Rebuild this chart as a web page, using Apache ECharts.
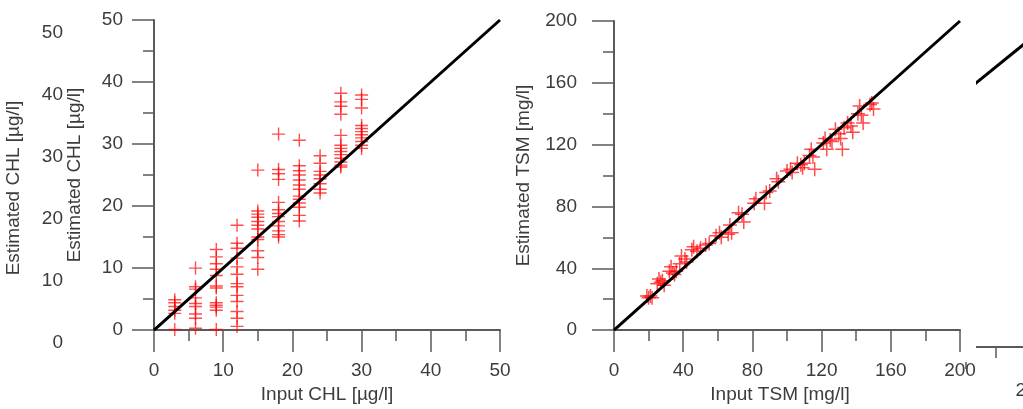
<!DOCTYPE html>
<html>
<head>
<meta charset="utf-8">
<script src="https://cdn.jsdelivr.net/npm/echarts@6/dist/echarts.min.js"></script>
<style>
html,body{margin:0;padding:0;background:#fff;overflow:hidden;width:1023px;height:409px;}
#chart{width:1120px;height:409px;}
</style>
</head>
<body>
<div id="chart"></div>
<script>
// ---- data ----
const chlInput = [3, 6, 9, 12, 15, 18, 21, 24, 27, 30];
const chlEstimated = [
  [4.9, 4.4, 3.8, 3.2, 2.7, 0.1],
  [10.0, 7.0, 6.6, 5.2, 4.3, 3.8, 2.6, 1.9, 0.3],
  [13.0, 11.8, 10.7, 9.8, 8.8, 7.1, 6.8, 4.4, 4.0, 3.7, 3.2, 0.1],
  [16.9, 14.0, 13.2, 11.6, 10.2, 9.0, 7.5, 7.0, 5.6, 4.6, 3.0, 1.9, 0.6],
  [25.8, 19.2, 18.7, 18.2, 17.5, 16.9, 16.3, 15.0, 14.6, 12.8, 11.7, 9.8],
  [31.6, 25.9, 25.2, 24.3, 20.6, 19.4, 18.8, 18.3, 17.5, 16.8, 16.0, 15.4, 15.0],
  [30.6, 26.5, 25.7, 25.0, 24.2, 23.4, 22.7, 21.6, 21.1, 20.5, 19.8, 18.5, 17.6],
  [28.1, 26.9, 25.6, 25.0, 24.4, 23.6, 22.7, 22.1],
  [38.2, 36.8, 36.1, 34.8, 31.4, 29.8, 29.3, 28.8, 28.3, 27.7, 27.1, 26.6, 26.3],
  [37.9, 37.2, 35.8, 33.0, 32.5, 32.0, 31.5, 31.0, 30.4, 29.8, 29.3]
];
const tsmInput = [19,20,21,22, 25,26,27,28,29, 32,33,34,35,36, 38,39,41,42,
  45,46,48,50,53,55, 59,61,62,66,67,68, 72,74,75, 81,82,87,88,90, 94,95,
  100,102,103,106,108,109,110, 113,114,115,116, 121,122,123,125,126,
  128,130,131,132,133, 135,137,138, 141,142,143,144, 148,149,150];
const tsmEstimated = [22,21,22,21, 30,33,31,32,29, 38,41,37,36,38, 43,48,46,44,
  52,54,51,53,55,56, 61,63,60,62,68,63, 76,75,70, 82,85,82,89,90, 98,96,
  103,104,102,108,107,105,108, 113,117,112,104, 121,124,117,123,122,
  130,127,124,117,131, 134,132,128, 140,145,139,134, 146,147,143];
const chlTicks = [0, 50, 10];      // min, max, interval
const tsmTicks = [0, 200, 40];
const chlOneToOne = [[0, 0], [50, 50]];
const tsmOneToOne = [[0, 0], [200, 200]];
const ghostTicks = [0, 40, 20];
const ghostLine = [[0, 85.3], [20, 101.5]];

// ---- build ----
const chlPoints = [];
chlInput.forEach((x, i) => chlEstimated[i].forEach(y => chlPoints.push([x, y])));
const tsmPoints = tsmInput.map((x, i) => [x, tsmEstimated[i]]);

const FONT = "'Liberation Sans', Arial, sans-serif";
const TXT = '#3c3c3c';
const AX = '#5a5a5a';
const FS = 19;
const cross = 'path://M0,5.8H13V7.2H0Z M5.8,0H7.2V13H5.8Z';

function valAxis(opt) {
  return Object.assign({
    type: 'value',
    splitLine: {show: false},
    axisLine: {show: true, onZero: false, lineStyle: {color: AX, width: 2}},
    axisTick: {show: true, length: 22, lineStyle: {color: AX, width: 1.5}},
    minorTick: {show: true, splitNumber: 2, length: 11, lineStyle: {color: AX, width: 1.5}},
    axisLabel: {color: TXT, fontFamily: FONT, fontSize: FS, margin: 31},
    nameLocation: 'middle',
    nameTextStyle: {color: TXT, fontFamily: FONT, fontSize: FS}
  }, opt);
}

const chart = echarts.init(document.getElementById('chart'), null, {renderer: 'canvas'});
chart.setOption({
  animation: false,
  backgroundColor: '#fff',
  grid: [
    {left: 154, top: 20, width: 346, height: 317},
    {left: 614, top: 21, width: 346, height: 317},
    {left: 94, top: 33, width: 10, height: 310},
    {left: 966, top: 47, width: 120, height: 300}
  ],
  xAxis: [
    valAxis({gridIndex: 0, min: chlTicks[0], max: chlTicks[1], interval: chlTicks[2],
      name: 'Input CHL [µg/l]', nameGap: 49}),
    valAxis({gridIndex: 1, min: tsmTicks[0], max: tsmTicks[1], interval: tsmTicks[2],
      name: 'Input TSM [mg/l]', nameGap: 49,
      nameTextStyle: {color: TXT, fontFamily: FONT, fontSize: FS, padding: [0, 14, 0, 0]}}),
    {gridIndex: 2, type: 'value', show: false, min: 0, max: 1},
    valAxis({gridIndex: 3, min: ghostTicks[0], max: ghostTicks[1], interval: ghostTicks[2],
      axisLabel: {color: TXT, fontFamily: FONT, fontSize: FS, margin: 34, showMinLabel: false}})
  ],
  yAxis: [
    valAxis({gridIndex: 0, min: chlTicks[0], max: chlTicks[1], interval: chlTicks[2],
      name: 'Estimated CHL [µg/l]', nameGap: 70}),
    valAxis({gridIndex: 1, min: tsmTicks[0], max: tsmTicks[1], interval: tsmTicks[2],
      name: 'Estimated TSM [mg/l]', nameGap: 81,
      axisLabel: {color: TXT, fontFamily: FONT, fontSize: FS, margin: 37}}),
    valAxis({gridIndex: 2, min: chlTicks[0], max: chlTicks[1], interval: chlTicks[2],
      name: 'Estimated CHL [µg/l]', nameGap: 71,
      axisLine: {show: false}, axisTick: {show: false}, minorTick: {show: false}}),
    {gridIndex: 3, type: 'value', show: false, min: 0, max: 100}
  ],
  series: [
    {type: 'scatter', xAxisIndex: 0, yAxisIndex: 0, data: chlPoints, symbol: cross,
      symbolSize: 13, itemStyle: {color: 'rgba(255,0,0,0.88)'}, z: 2},
    {type: 'line', xAxisIndex: 0, yAxisIndex: 0, data: chlOneToOne, symbol: 'none',
      lineStyle: {color: '#000', width: 3}, z: 3},
    {type: 'scatter', xAxisIndex: 1, yAxisIndex: 1, data: tsmPoints, symbol: cross,
      symbolSize: 14, itemStyle: {color: 'rgba(255,0,0,0.88)'}, z: 2},
    {type: 'line', xAxisIndex: 1, yAxisIndex: 1, data: tsmOneToOne, symbol: 'none',
      lineStyle: {color: '#000', width: 3}, z: 3},
    {type: 'line', xAxisIndex: 3, yAxisIndex: 3, data: ghostLine, symbol: 'none', clip: false,
      lineStyle: {color: '#000', width: 3}, z: 3}
  ],
  graphic: [
    {type: 'rect', shape: {x: 962, y: 0, width: 14, height: 362}, style: {fill: '#fff'}, z: 100}
  ]
});
</script>
</body>
</html>
